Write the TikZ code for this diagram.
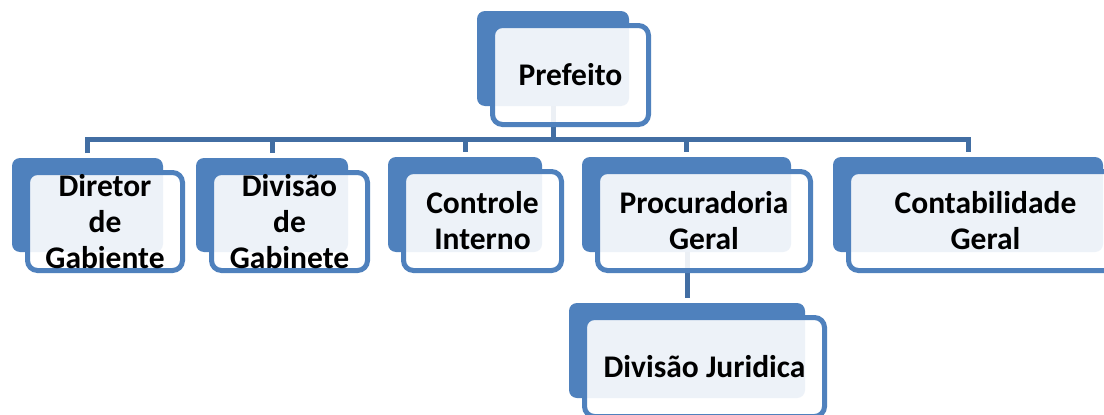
\documentclass[tikz,border=0pt]{standalone}
\usepackage{fontspec}
\setmainfont{Carlito}
\definecolor{boxblue}{RGB}{79,129,189}
\definecolor{lineblue}{RGB}{66,110,163}
\begin{document}
\begin{tikzpicture}[x=1pt,y=-1pt,
  backbox/.style={fill=boxblue, rounded corners=8pt, inner sep=0pt, outer sep=0pt, anchor=north west},
  frontbox/.style={draw=boxblue, line width=5pt, fill=white, fill opacity=0.9, text opacity=1,
    rounded corners=10pt, inner sep=0pt, outer sep=0pt, anchor=center, align=center, text=black,
    font=\bfseries\fontsize{31.5}{36}\selectfont},
  conn/.style={draw=lineblue, line width=5pt}]
\useasboundingbox (0,0) rectangle (1104,415);
\clip (0,0) rectangle (1104,415);
\fill[white] (0,0) rectangle (1104,415);
% back boxes
\node[backbox, minimum width=152pt, minimum height=95pt] (pb) at (477,11) {};
\node[backbox, minimum width=151pt, minimum height=94pt] (c1b) at (12,158) {};
\node[backbox, minimum width=152pt, minimum height=94pt] (c2b) at (196,158) {};
\node[backbox, minimum width=154pt, minimum height=95pt] (c3b) at (388,157) {};
\node[backbox, minimum width=209pt, minimum height=95pt] (c4b) at (582,157) {};
\node[backbox, minimum width=270pt, minimum height=95pt] (c5b) at (833,157) {};
\node[backbox, minimum width=236pt, minimum height=95pt] (c6b) at (569,303) {};
% connectors
\coordinate (bar) at (0,139);
\draw[conn] (pb.south) -- (pb.south |- bar);
\draw[conn] ([yshift=5pt]c1b.north) -- (c1b.north |- bar) -- (c5b.north |- bar) -- ([yshift=5pt]c5b.north);
\draw[conn] (c2b.north |- bar) -- ([yshift=5pt]c2b.north);
\draw[conn] (c3b.north |- bar) -- ([yshift=5pt]c3b.north);
\draw[conn] (c4b.north |- bar) -- ([yshift=5pt]c4b.north);
\draw[conn] (c6b.north |- c4b.south) -- ([yshift=5pt]c6b.north);
% front boxes
\node[frontbox, minimum width=156pt, minimum height=99pt] (pf) at ([shift={(17.5pt,-16.5pt)}]pb.center) {Prefeito};
\node[frontbox, minimum width=155pt, minimum height=98pt] (c1f) at ([shift={(17.5pt,-16.5pt)}]c1b.center) {Diretor\\de\\Gabiente};
\node[frontbox, minimum width=156pt, minimum height=98pt] (c2f) at ([shift={(17.5pt,-16.5pt)}]c2b.center) {Divisão\\de\\Gabinete};
\node[frontbox, minimum width=158pt, minimum height=99pt] (c3f) at ([shift={(17.5pt,-16.5pt)}]c3b.center) {Controle\\Interno};
\node[frontbox, minimum width=213pt, minimum height=99pt] (c4f) at ([shift={(17.5pt,-16.5pt)}]c4b.center) {Procuradoria\\Geral};
\node[frontbox, minimum width=274pt, minimum height=99pt] (c5f) at ([shift={(17.5pt,-16.5pt)}]c5b.center) {Contabilidade\\Geral};
\node[frontbox, minimum width=240pt, minimum height=99pt] (c6f) at ([shift={(17.5pt,-16.5pt)}]c6b.center) {Divisão Juridica};
\end{tikzpicture}
\end{document}
